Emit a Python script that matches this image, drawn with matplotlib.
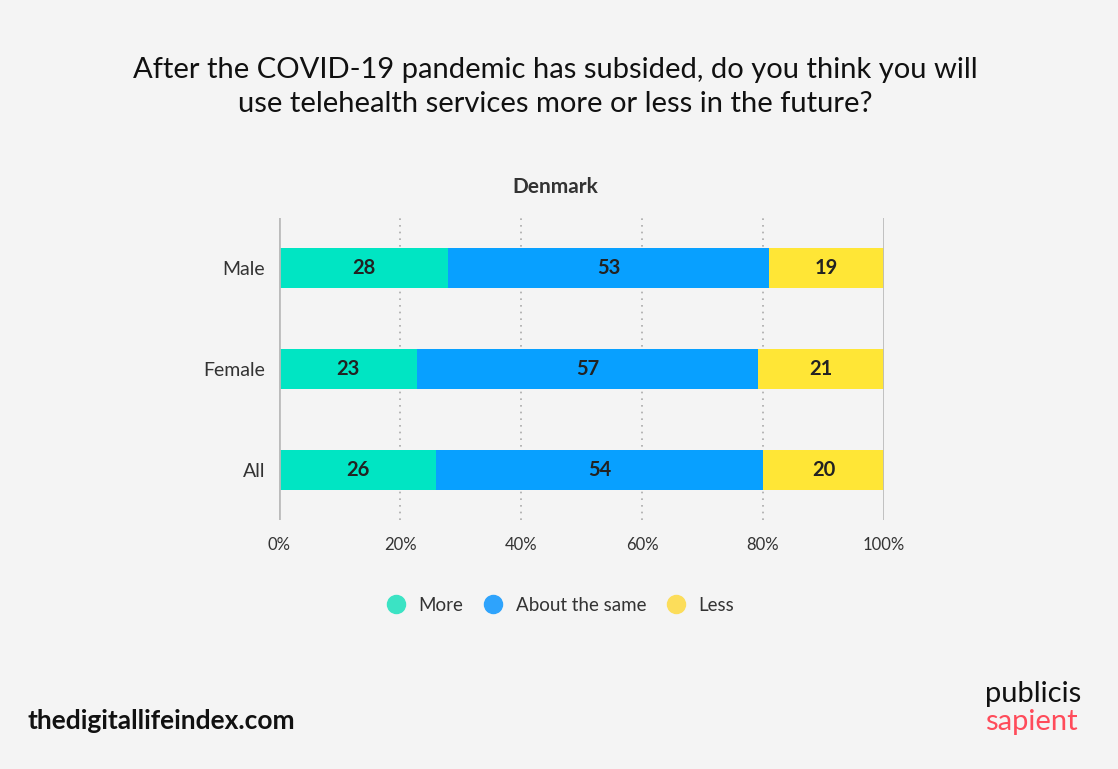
import matplotlib.pyplot as plt
from matplotlib.lines import Line2D
import numpy as np

plt.rcParams['font.family'] = ['Lato', 'DejaVu Sans']

# data
groups = ['Male', 'Female', 'All']
series = ['More', 'About the same', 'Less']
more = [28, 23, 26]
same = [53, 57, 54]
less = [19, 21, 20]
colors = ['#00E5C3', '#08A0FF', '#FFE636']
legend_colors = ['#3BE3C4', '#2EA3FC', '#FCDD5A']

bg = '#F4F4F4'
fig = plt.figure(figsize=(11.18, 7.69), dpi=100, facecolor=bg)
ax = fig.add_axes([0.2496, 0.3238, 0.5411, 0.3927], facecolor=bg)

vals = np.array([more, same, less], dtype=float)
pct = vals / vals.sum(axis=0) * 100
ypos = np.arange(len(groups))[::-1]

left = np.zeros(len(groups))
for i, name in enumerate(series):
    ax.barh(ypos, pct[i], left=left, height=0.4, color=colors[i], zorder=3)
    for y, l, w, v in zip(ypos, left, pct[i], vals[i]):
        ax.text(l + w / 2, y, f'{int(v)}', ha='center', va='center',
                fontsize=14.5, fontweight='bold', color='#222222', zorder=4)
    left += pct[i]

ax.set_xlim(0, 100)
ax.set_ylim(-0.5, 2.5)
for x in [20, 40, 60, 80]:
    ax.axvline(x, color='#AAAAAA', linestyle=(0, (1, 3)), linewidth=1.2, zorder=1)
for x in [0, 100]:
    ax.axvline(x, color='#BBBBBB', linewidth=2, zorder=5)

for s in ax.spines.values():
    s.set_visible(False)
ax.set_xticks([0, 20, 40, 60, 80, 100])
ax.set_xticklabels([f'{t}%' for t in [0, 20, 40, 60, 80, 100]], fontsize=12, color='#333333')
ax.set_yticks(ypos)
ax.set_yticklabels(groups, fontsize=14, color='#333333')
ax.tick_params(length=0, pad=12)
ax.tick_params(axis='y', pad=10)

fig.text(0.497, 0.887, 'After the COVID-19 pandemic has subsided, do you think you will\n'
         'use telehealth services more or less in the future?',
         ha='center', va='center', fontsize=21, color='#111111', linespacing=1.35)
fig.text(0.497, 0.757, 'Denmark', ha='center', va='center', fontsize=15,
         fontweight='bold', color='#333333')

handles = [Line2D([], [], marker='o', linestyle='', markersize=13,
                  markerfacecolor=c, markeredgecolor=c) for c in legend_colors]
fig.legend(handles, series, loc='center', bbox_to_anchor=(0.497, 0.213), ncol=3,
           frameon=False, fontsize=13.5, handletextpad=0.2, columnspacing=0.6,
           labelcolor='#333333')

fig.text(0.025, 0.063, 'thedigitallifeindex.com', ha='left', va='center',
         fontsize=19, fontweight='bold', color='#111111')
fig.text(0.881, 0.097, 'publicis', ha='left', va='center', fontsize=21,
         color='#111111')
fig.text(0.881, 0.061, 'sapient', ha='left', va='center', fontsize=21,
         color='#FF4B5A')

plt.savefig('out.png', dpi=100, facecolor=bg)
